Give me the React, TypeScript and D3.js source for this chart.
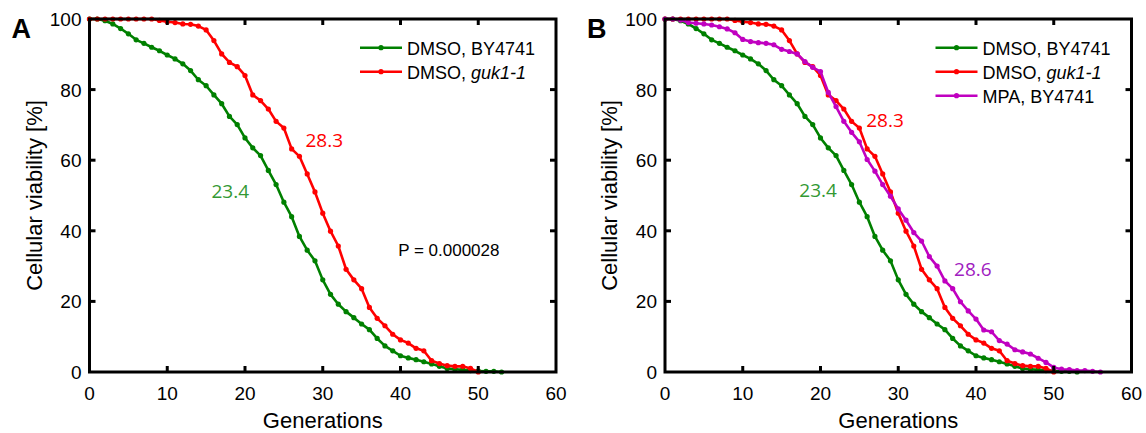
import React, { useEffect, useRef } from 'react';
import * as d3 from 'd3';

// generations 0..n (one point per generation)
const dmsoBY4741 = [
  100, 100, 99.5, 98.6, 97.3, 95.8, 94.1, 93.1, 92.0, 91.0,
  89.8, 88.7, 87.3, 85.4, 82.8, 81.1, 78.5, 76.0, 72.4, 70.1,
  66.3, 63.5, 61.3, 57.1, 53.1, 48.1, 44.0, 38.4, 34.5, 31.5,
  26.1, 22.0, 19.2, 17.1, 15.4, 13.6, 12.0, 9.5, 7.4, 6.0,
  4.6, 4.0, 3.5, 2.9, 2.3, 1.6, 1.0, 0.8, 0.6, 0.4,
  0.3, 0.2, 0.2, 0,
];
const dmsoGuk1 = [
  100, 100, 100, 100, 100, 100, 100, 100, 100, 99.6,
  99.2, 99.0, 98.6, 98.5, 98.0, 96.9, 93.9, 90.1, 87.7, 86.5,
  84.0, 78.5, 76.9, 74.5, 71.0, 69.1, 63.2, 61.1, 56.1, 51.0,
  45.0, 39.9, 35.7, 29.1, 26.1, 23.6, 18.3, 15.2, 13.1, 10.7,
  9.1, 8.2, 6.7, 6.0, 3.2, 2.4, 1.8, 1.6, 1.6, 1.0,
  0,
];
const mpaBY4741 = [
  100, 100, 99.7, 99.0, 98.8, 98.6, 98.3, 97.8, 97.2, 96.1,
  94.2, 93.6, 93.3, 93.1, 92.7, 91.4, 90.8, 90.1, 87.9, 86.3,
  85.1, 79.2, 75.2, 71.0, 67.9, 65.2, 60.2, 56.9, 53.1, 49.8,
  46.2, 43.0, 39.5, 37.1, 32.7, 30.0, 25.8, 23.6, 19.9, 17.3,
  15.0, 11.9, 11.4, 8.9, 7.9, 6.3, 5.7, 5.1, 3.9, 2.7,
  1.3, 0.8, 0.7, 0.4, 0.4, 0.2, 0,
];

const xTicks = [0, 10, 20, 30, 40, 50, 60];
const yTicks = [0, 20, 40, 60, 80, 100];

const GREEN = '#008000';
const RED = '#ff0000';
const MAGENTA = '#c000c0';

const panels = [
  {
    letter: 'A',
    left: 89.5,
    series: [
      { name: 'DMSO, ', italic: 'BY4741', plainItalic: false, values: dmsoBY4741, color: GREEN },
      { name: 'DMSO, ', italic: 'guk1-1', plainItalic: true, values: dmsoGuk1, color: RED },
    ],
    // label anchor positions in data units (generation, %)
    labels: [
      { text: '23.4', x: 18.1, y: 49.3, color: '#339933' },
      { text: '28.3', x: 30.2, y: 63.7, color: RED },
    ],
    pText: 'P = 0.000028',
  },
  {
    letter: 'B',
    left: 665,
    series: [
      { name: 'DMSO, ', italic: 'BY4741', plainItalic: false, values: dmsoBY4741, color: GREEN },
      { name: 'DMSO, ', italic: 'guk1-1', plainItalic: true, values: dmsoGuk1, color: RED },
      { name: 'MPA, ', italic: 'BY4741', plainItalic: false, values: mpaBY4741, color: MAGENTA },
    ],
    labels: [
      { text: '23.4', x: 19.7, y: 49.6, color: '#339933' },
      { text: '28.3', x: 28.3, y: 69.4, color: RED },
      { text: '28.6', x: 39.6, y: 27.2, color: '#a020c0' },
    ],
    pText: null,
  },
];

const W = 1146;
const H = 433;
const plotW = 466.5;
const top = 19;
const bottom = 372;
const font = '"Liberation Sans", Arial, sans-serif';

const App = () => {
  const ref = useRef(null);

  useEffect(() => {
    const svg = d3.select(ref.current);
    svg.selectAll('*').remove();

    panels.forEach(p => {
      const x = d3.scaleLinear().domain([0, 60]).range([p.left, p.left + plotW]);
      const y = d3.scaleLinear().domain([0, 100]).range([bottom, top]);
      const g = svg.append('g');

      // curves
      const line = d3.line<number>().x((d, i) => x(i)).y(d => y(d));
      p.series.forEach(s => {
        g.append('path')
          .attr('d', line(s.values))
          .attr('fill', 'none')
          .attr('stroke', s.color)
          .attr('stroke-width', 2.6)
          .attr('stroke-linejoin', 'round');
        g.selectAll(null)
          .data(s.values)
          .enter().append('circle')
          .attr('cx', (d, i) => x(i))
          .attr('cy', d => y(d))
          .attr('r', 2.6)
          .attr('fill', s.color);
      });

      // box frame with inward ticks
      const tl = 6;
      g.append('rect')
        .attr('x', x(0)).attr('y', top)
        .attr('width', plotW).attr('height', bottom - top)
        .attr('fill', 'none').attr('stroke', '#000').attr('stroke-width', 3);
      xTicks.slice(1, -1).forEach(t => {
        g.append('line').attr('x1', x(t)).attr('x2', x(t)).attr('y1', bottom).attr('y2', bottom - tl)
          .attr('stroke', '#000').attr('stroke-width', 3);
        g.append('line').attr('x1', x(t)).attr('x2', x(t)).attr('y1', top).attr('y2', top + tl)
          .attr('stroke', '#000').attr('stroke-width', 3);
      });
      yTicks.slice(1, -1).forEach(t => {
        g.append('line').attr('x1', x(0)).attr('x2', x(0) + tl).attr('y1', y(t)).attr('y2', y(t))
          .attr('stroke', '#000').attr('stroke-width', 3);
        g.append('line').attr('x1', x(60)).attr('x2', x(60) - tl).attr('y1', y(t)).attr('y2', y(t))
          .attr('stroke', '#000').attr('stroke-width', 3);
      });

      // tick labels
      g.selectAll(null).data(xTicks).enter().append('text')
        .attr('x', d => x(d)).attr('y', 400)
        .attr('text-anchor', 'middle')
        .style('font-family', font).style('font-size', '19px')
        .text(d => d);
      g.selectAll(null).data(yTicks).enter().append('text')
        .attr('x', x(0) - 8).attr('y', d => y(d) + 7)
        .attr('text-anchor', 'end')
        .style('font-family', font).style('font-size', '19px')
        .text(d => d);

      // axis titles
      g.append('text')
        .attr('x', x(30)).attr('y', 428)
        .attr('text-anchor', 'middle')
        .style('font-family', font).style('font-size', '22px')
        .text('Generations');
      g.append('text')
        .attr('transform', `translate(${p.left - 48},${(top + bottom) / 2}) rotate(-90)`)
        .attr('text-anchor', 'middle')
        .style('font-family', font).style('font-size', '22px')
        .text('Cellular viability [%]');

      // panel letter
      g.append('text')
        .attr('x', p.left - 78).attr('y', 38)
        .style('font-family', font).style('font-size', '27px').style('font-weight', 'bold')
        .text(p.letter);

      // legend
      const lx = x(60) - 196;
      p.series.forEach((s, i) => {
        const ly = 47.7 + i * 24;
        g.append('line').attr('x1', lx).attr('x2', lx + 42).attr('y1', ly).attr('y2', ly)
          .attr('stroke', s.color).attr('stroke-width', 2.6);
        g.append('circle').attr('cx', lx + 21).attr('cy', ly).attr('r', 2.6).attr('fill', s.color);
        const t = g.append('text')
          .attr('x', lx + 47).attr('y', ly + 7)
          .style('font-family', font).style('font-size', '18px');
        t.append('tspan').text(s.name);
        t.append('tspan').style('font-style', s.plainItalic ? 'italic' : 'normal').text(s.italic);
      });

      // median labels
      p.labels.forEach(l => {
        g.append('text')
          .attr('x', x(l.x)).attr('y', y(l.y))
          .attr('text-anchor', 'middle')
          .attr('fill', l.color)
          .style('font-family', '"Open Sans", "Noto Sans", sans-serif').style('font-size', '19px')
          .text(l.text);
      });

      if (p.pText) {
        g.append('text')
          .attr('x', x(39.7)).attr('y', 256)
          .style('font-family', font).style('font-size', '17px')
          .text(p.pText);
      }
    });
  }, []);

  return (
    <svg ref={ref} width={W} height={H}
      style={{ position: 'absolute', left: 0, top: 0, background: '#fff' }} />
  );
};

export default App;
